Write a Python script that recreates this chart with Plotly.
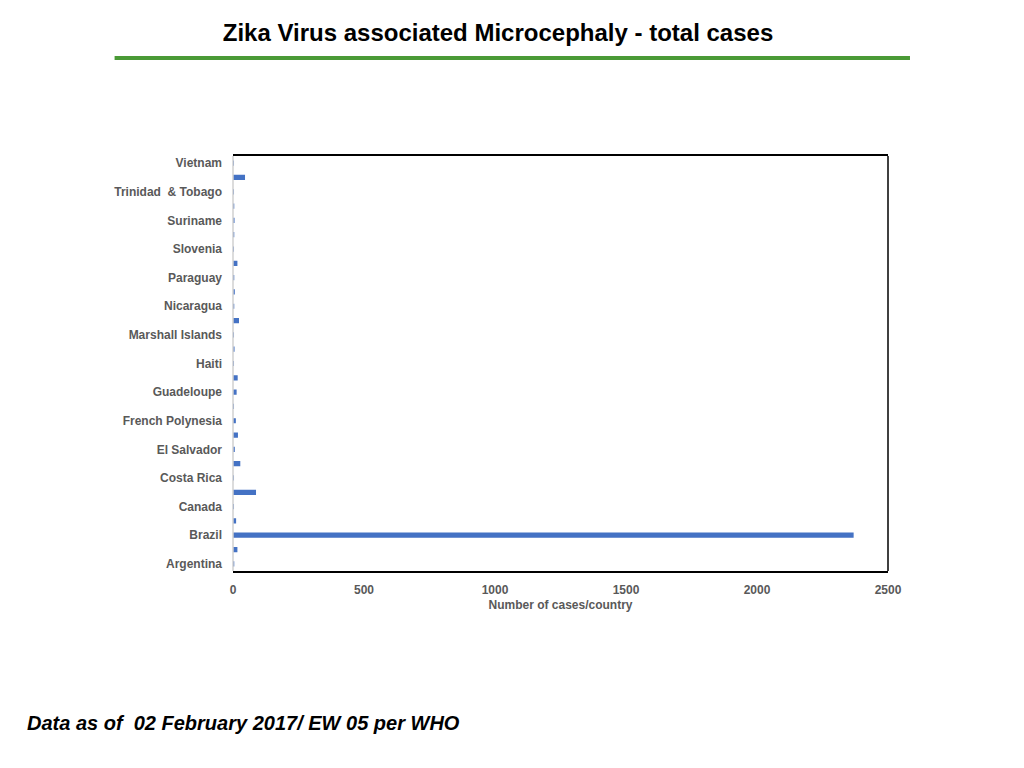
import plotly.graph_objects as go

# Countries (bottom to top) and total microcephaly cases
countries = [
    "Argentina", "Bolivia", "Brazil", "Cabo Verde", "Canada", "Colombia",
    "Costa Rica", "Dominican Republic", "El Salvador", "French Guiana",
    "French Polynesia", "Grenada", "Guadeloupe", "Guatemala", "Haiti",
    "Honduras", "Marshall Islands", "Martinique", "Nicaragua", "Panama",
    "Paraguay", "Puerto Rico", "Slovenia", "Spain", "Suriname", "Thailand",
    "Trinidad  & Tobago", "United States of America", "Vietnam",
]
cases = [
    2, 14, 2366, 9, 1, 85,
    1, 25, 4, 16,
    8, 1, 11, 15, 1,
    3, 1, 20, 2, 4,
    2, 14, 1, 2, 3, 2,
    1, 43, 1,
]

# only every other country gets a label on the axis
shown_labels = countries[::2]

x_ticks = [0, 500, 1000, 1500, 2000, 2500]

grey = "#595959"
font_family = "Liberation Sans, Arial, sans-serif"
tick_font = dict(family=font_family, size=12, color=grey, weight="bold")

# plot area in page pixels (page body has an 8px offset)
L, T, W, H = 224.5, 148, 655.5, 415

def px(x):
    return (x - L) / W

def py(y):
    return (T + H - y) / H

fig = go.Figure(
    go.Bar(
        x=cases,
        y=countries,
        orientation="h",
        marker=dict(color="#4472C4", line=dict(color="#4472C4", width=1.5)),
        width=0.26,
        hoverinfo="x+y",
    )
)

fig.update_layout(
    width=1024,
    height=768,
    margin=dict(l=L, r=1024 - L - W, t=T, b=768 - T - H),
    paper_bgcolor="white",
    plot_bgcolor="white",
    showlegend=False,
    title=dict(
        text="Zika Virus associated Microcephaly - total cases",
        x=490 / 1024, xref="container", xanchor="center",
        y=1 - 25 / 768, yref="container", yanchor="middle",
        font=dict(family=font_family, size=24, color="black", weight="bold"),
    ),
    xaxis=dict(
        range=[0, 2500],
        tickvals=x_ticks,
        ticktext=[str(v) for v in x_ticks],
        tickfont=tick_font,
        showgrid=False,
        zeroline=False,
        showline=True,
        linecolor="black",
        linewidth=1.5,
        mirror=True,
        ticks="",
        ticklabelstandoff=7,
        title=dict(
            text="Number of cases/country",
            font=dict(family=font_family, size=12, color=grey, weight="bold"),
            standoff=4,
        ),
    ),
    yaxis=dict(
        type="category",
        categoryorder="array",
        categoryarray=countries,
        tickvals=shown_labels,
        ticktext=shown_labels,
        tickfont=tick_font,
        showgrid=False,
        zeroline=False,
        showline=False,
        ticks="",
        ticklabelstandoff=10,
    ),
    shapes=[
        # green rule under the title
        dict(type="line", xref="paper", yref="paper",
             x0=px(106), x1=px(902), y0=py(50), y1=py(50),
             line=dict(color="#4a9a36", width=4)),
        # light grey left axis line
        dict(type="line", xref="paper", yref="paper", x0=0, x1=0, y0=0, y1=1,
             line=dict(color="#d0d0d0", width=1.5)),
        # black right border
        dict(type="line", xref="paper", yref="paper", x0=1, x1=1, y0=0, y1=1,
             line=dict(color="black", width=1.5)),
    ],
    annotations=[
        dict(
            text="<b><i>Data as of  02 February 2017/ EW 05 per WHO</i></b>",
            xref="paper", yref="paper",
            x=px(16), y=py(715),
            xanchor="left", yanchor="middle",
            showarrow=False,
            font=dict(family=font_family, size=20, color="black"),
        )
    ],
)

fig.write_html("out.html")
